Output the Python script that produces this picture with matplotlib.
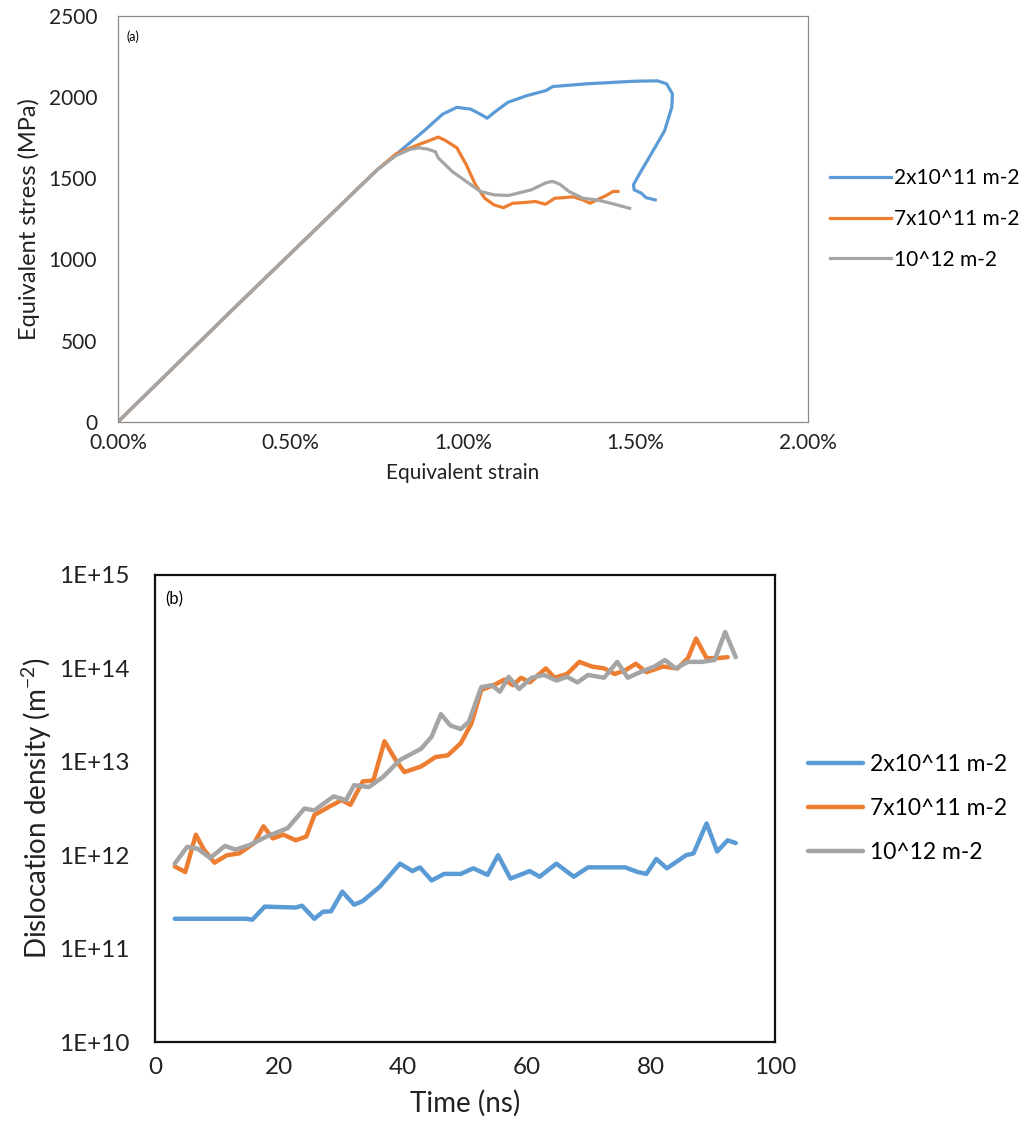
import numpy as np
import matplotlib
matplotlib.use("Agg")
import matplotlib.pyplot as plt
from matplotlib.ticker import FixedLocator, FuncFormatter, NullLocator

plt.rcParams['font.family'] = ['Lato', 'DejaVu Sans']

# ── Panel (a): stress-strain ───────────────────────────────────────────────
labels = ["2x10^11 m-2", "7x10^11 m-2", "10^12 m-2"]
colors = ["#5B9BD5", "#ED7D31", "#A5A5A5"]

strain_blue = [0, 0.0035, 0.0075, 0.00806, 0.00887, 0.00941, 0.00982, 0.01022, 0.0105,
               0.0107, 0.0109, 0.0113, 0.01185, 0.0124, 0.0126, 0.0136, 0.0150, 0.01564,
               0.0159, 0.01607, 0.01605, 0.01584, 0.0155, 0.0151, 0.01494, 0.01496,
               0.01517, 0.0153, 0.01557]
stress_blue = [0, 728, 1550, 1647, 1792, 1895, 1937, 1926, 1895,
               1870, 1905, 1968, 2009, 2040, 2065, 2082, 2098, 2100,
               2082, 2019, 1937, 1792, 1667, 1522, 1460, 1429,
               1408, 1381, 1367]

strain_orange = [0, 0.0035, 0.0075, 0.00806, 0.00873, 0.009, 0.00928, 0.00948, 0.00982,
                 0.01009, 0.01036, 0.01063, 0.0109, 0.01117, 0.01144, 0.01185, 0.0121,
                 0.01239, 0.01266, 0.01293, 0.0132, 0.01347, 0.01368, 0.01388, 0.01415,
                 0.01435, 0.01449]
stress_orange = [0, 728, 1550, 1650, 1709, 1730, 1754, 1734, 1688,
                 1585, 1460, 1377, 1336, 1319, 1346, 1352, 1357,
                 1340, 1377, 1381, 1386, 1367, 1346, 1367, 1394,
                 1419, 1419]

strain_gray = [0, 0.0035, 0.0075, 0.00806, 0.00846, 0.00873, 0.009, 0.0092, 0.00928,
               0.00968, 0.01009, 0.0105, 0.0109, 0.01131, 0.01158, 0.01198, 0.01239,
               0.01259, 0.0128, 0.01307, 0.01347, 0.01388, 0.01429, 0.01483]
stress_gray = [0, 728, 1550, 1640, 1678, 1688, 1678, 1663, 1626,
               1543, 1481, 1419, 1398, 1394, 1408, 1429, 1471,
               1481, 1464, 1419, 1377, 1367, 1346, 1315]

# ── Panel (b): dislocation density vs time ─────────────────────────────────
t_blue = [3.2, 14.7, 15.7, 17.7, 22.7, 23.7, 25.7, 27.1, 28.4, 30.2, 32.1, 33.5, 36.2,
          39.5, 41.5, 42.7, 44.6, 46.6, 49.3, 51.3, 53.6, 55.3, 57.3, 60.4, 62.0, 64.7,
          67.5, 69.8, 75.8, 77.8, 79.2, 80.8, 82.5, 85.6, 86.8, 88.9, 90.6, 92.3, 93.6]
logrho_blue = [11.32, 11.32, 11.31, 11.45, 11.44, 11.46, 11.32, 11.395, 11.40, 11.61,
               11.47, 11.51, 11.66, 11.91, 11.83, 11.87, 11.73, 11.80, 11.80, 11.86,
               11.79, 12.00, 11.75, 11.83, 11.77, 11.91, 11.77, 11.87, 11.87, 11.82,
               11.80, 11.96, 11.86, 12.00, 12.02, 12.34, 12.04, 12.16, 12.13]

t_orange = [3.2, 4.9, 6.6, 7.9, 9.6, 11.6, 13.6, 16.0, 17.5, 19.0, 20.7, 22.7, 24.4,
            25.7, 28.1, 30.1, 31.5, 33.5, 35.2, 37.0, 38.8, 40.2, 42.9, 45.2, 47.2,
            49.3, 51.0, 52.6, 54.6, 56.3, 57.7, 59.0, 60.4, 63.0, 64.4, 66.4, 68.4,
            70.4, 72.4, 74.1, 75.8, 77.5, 79.2, 81.9, 84.2, 85.9, 87.2, 88.9, 90.6, 92.3]
logrho_orange = [11.88, 11.82, 12.22, 12.06, 11.92, 12.00, 12.02, 12.13, 12.31, 12.18,
                 12.22, 12.16, 12.20, 12.43, 12.52, 12.59, 12.54, 12.79, 12.80, 13.22,
                 13.02, 12.89, 12.95, 13.05, 13.07, 13.20, 13.41, 13.77, 13.82, 13.88,
                 13.82, 13.90, 13.85, 14.00, 13.90, 13.94, 14.07, 14.02, 14.00, 13.94,
                 13.98, 14.05, 13.96, 14.02, 14.00, 14.11, 14.32, 14.11, 14.11, 14.12]

t_gray = [3.2, 5.2, 6.9, 8.9, 11.3, 13.0, 15.3, 18.0, 21.4, 24.1, 25.7, 28.8, 30.8,
          32.1, 34.5, 36.8, 39.5, 42.9, 44.6, 46.1, 47.6, 49.3, 50.6, 52.6, 54.3, 55.6,
          57.0, 58.7, 60.7, 62.7, 64.7, 66.4, 68.1, 69.8, 72.4, 74.5, 76.2, 78.2, 80.5,
          82.2, 83.9, 85.9, 88.2, 90.2, 91.9, 93.6]
logrho_gray = [11.91, 12.09, 12.07, 11.97, 12.10, 12.06, 12.11, 12.20, 12.29, 12.50,
               12.48, 12.63, 12.59, 12.75, 12.73, 12.84, 13.02, 13.14, 13.27, 13.51,
               13.39, 13.35, 13.43, 13.80, 13.82, 13.75, 13.91, 13.78, 13.90, 13.93,
               13.87, 13.91, 13.85, 13.93, 13.90, 14.07, 13.90, 13.96, 14.02, 14.09,
               14.00, 14.07, 14.07, 14.09, 14.39, 14.12]

y_ticks_b = [1e10, 1e11, 1e12, 1e13, 1e14, 1e15]

fig = plt.figure(figsize=(10.19, 11.37), dpi=100)

# ── (a) ────────────────────────────────────────────────────────────────────
ax1 = fig.add_axes([0.1158, 0.629, 0.6772, 0.357])
for sx, sy, c, lab in zip([strain_blue, strain_orange, strain_gray],
                          [stress_blue, stress_orange, stress_gray], colors, labels):
    ax1.plot(sx, sy, color=c, lw=2.3, label=lab, solid_joinstyle="round")
ax1.set_xlim(0, 0.02)
ax1.set_ylim(0, 2500)
ax1.set_xticks([0, 0.005, 0.01, 0.015, 0.02])
ax1.xaxis.set_major_formatter(FuncFormatter(lambda v, p: f"{v*100:.2f}%"))
ax1.set_yticks([0, 500, 1000, 1500, 2000, 2500])
ax1.tick_params(length=0, labelsize=15, pad=8, colors="#222222")
ax1.tick_params(axis="y", pad=15)
for s in ax1.spines.values():
    s.set_color("#8c8c8c")
    s.set_linewidth(0.9)
ax1.set_xlabel("Equivalent strain", fontsize=15, color="#222222", labelpad=7)
ax1.set_ylabel("Equivalent stress (MPa)", fontsize=17, color="#222222", labelpad=6)
ax1.text(0.012, 0.965, "(a)", transform=ax1.transAxes, fontsize=9, va="top")
ax1.legend(loc="center left", bbox_to_anchor=(1.005, 0.5), frameon=False,
           fontsize=15, handlelength=2.9, handletextpad=0.15, labelspacing=1.0)

# ── (b) ────────────────────────────────────────────────────────────────────
ax2 = fig.add_axes([0.152, 0.0835, 0.609, 0.4108])
for tx, ly, c, lab in zip([t_blue, t_orange, t_gray],
                          [logrho_blue, logrho_orange, logrho_gray], colors, labels):
    ax2.plot(tx, 10 ** np.array(ly), color=c, lw=3.2, label=lab,
             solid_joinstyle="round", solid_capstyle="round")
ax2.set_yscale("log")
ax2.set_xlim(0, 100)
ax2.set_ylim(1e10, 1e15)
ax2.set_xticks([0, 20, 40, 60, 80, 100])
ax2.yaxis.set_major_locator(FixedLocator(y_ticks_b))
ax2.yaxis.set_minor_locator(NullLocator())
ax2.yaxis.set_major_formatter(FuncFormatter(lambda v, p: f"1E+{int(round(np.log10(v)))}"))
ax2.tick_params(length=0, labelsize=17.5, pad=11, colors="#222222")
ax2.tick_params(axis="y", pad=18)
for s in ax2.spines.values():
    s.set_color("#111111")
    s.set_linewidth(1.6)
ax2.set_xlabel("Time (ns)", fontsize=20, color="#222222", labelpad=8)
ax2.set_ylabel("Dislocation density (m$\\mathregular{^{-2}}$)", fontsize=20,
               color="#222222", labelpad=4)
ax2.text(0.016, 0.965, "(b)", transform=ax2.transAxes, fontsize=12, va="top")
ax2.legend(loc="center left", bbox_to_anchor=(1.02, 0.5), frameon=False,
           fontsize=16.5, handlelength=2.4, handletextpad=0.3, labelspacing=1.0)

fig.savefig("out.png", dpi=100)
